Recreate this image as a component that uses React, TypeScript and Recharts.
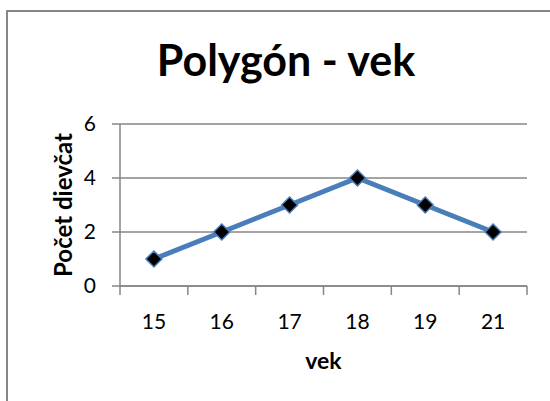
import React from 'react';
import { LineChart, Line, XAxis, YAxis, CartesianGrid } from 'recharts';

const categories = ['15', '16', '17', '18', '19', '21'];
const girls = [1, 2, 3, 4, 3, 2];
const yTicks = [0, 2, 4, 6];

const data = categories.map((vek, i) => ({ vek, pocet: girls[i] }));

const FONT = 'Lato, "Open Sans", sans-serif';
const GRID = '#868686';
const BLUE = '#4A7EBB';

// plocha grafu
const PLOT_LEFT = 120;
const PLOT_RIGHT = 527;
const HALF_BAND = (PLOT_RIGHT - PLOT_LEFT) / categories.length / 2;

// kosoštvorcová značka ako v Exceli
const Diamond = (props: any) => {
  const { cx, cy } = props;
  if (cx == null || cy == null) return null;
  const r = 8;
  return (
    <polygon
      points={`${cx},${cy - r} ${cx + r},${cy} ${cx},${cy + r} ${cx - r},${cy}`}
      fill="#000"
      stroke={BLUE}
      strokeWidth={1.5}
    />
  );
};

// značky osi x sú medzi kategóriami, popis v strede
const XTick = (props: any) => {
  const { x, y, payload, index } = props;
  const last = index === categories.length - 1;
  return (
    <g>
      <line x1={x - HALF_BAND} x2={x - HALF_BAND} y1={y} y2={y + 9} stroke={GRID} strokeWidth={1.5} />
      {last && <line x1={x + HALF_BAND} x2={x + HALF_BAND} y1={y} y2={y + 9} stroke={GRID} strokeWidth={1.5} />}
      <text x={x} y={y + 43} textAnchor="middle" fill="#000" fontSize={21} fontFamily={FONT}>
        {payload.value}
      </text>
    </g>
  );
};

export default function App() {
  return (
    <div style={{ position: 'absolute', left: 0, top: 0, width: 550, height: 401, overflow: 'hidden', background: '#fff' }}>
      <div
        style={{
          position: 'absolute',
          left: 6,
          top: 10,
          width: 600,
          height: 500,
          border: `2px solid ${GRID}`,
        }}
      />
      <div
        style={{
          position: 'absolute',
          left: 0,
          top: 34,
          width: 572,
          textAlign: 'center',
          fontFamily: FONT,
          fontWeight: 700,
          fontSize: 43,
          lineHeight: '52px',
          color: '#000',
        }}
      >
        Polygón - vek
      </div>
      <LineChart
        width={550}
        height={401}
        data={data}
        margin={{ top: 124, right: 550 - PLOT_RIGHT, bottom: 25, left: PLOT_LEFT - 70 }}
        style={{ position: 'absolute', left: 0, top: 0 }}
      >
        <CartesianGrid vertical={false} stroke={GRID} strokeWidth={1.5} />
        <XAxis
          dataKey="vek"
          height={90}
          stroke={GRID}
          strokeWidth={1.5}
          tickLine={false}
          tickSize={0}
          tickMargin={0}
          padding={{ left: HALF_BAND, right: HALF_BAND }}
          tick={<XTick />}
          interval={0}
          label={{
            content: (p: any) => {
              const vb = p.viewBox;
              return (
                <text x={vb.x + vb.width / 2} y={vb.y + 83} textAnchor="middle" fill="#000" fontSize={23} fontWeight={700} fontFamily={FONT}>
                  vek
                </text>
              );
            },
          }}
        />
        <YAxis
          domain={[0, 6]}
          ticks={yTicks}
          width={70}
          stroke={GRID}
          strokeWidth={1.5}
          tickSize={8}
          tickMargin={16}
          tick={{ fill: '#000', fontSize: 21, fontFamily: FONT }}
          label={{
            content: (p: any) => {
              const vb = p.viewBox;
              const cx = 72;
              const cy = vb.y + vb.height / 2;
              return (
                <text
                  x={cx}
                  y={cy}
                  transform={`rotate(-90, ${cx}, ${cy})`}
                  textAnchor="middle"
                  fill="#000"
                  fontSize={24}
                  fontWeight={700}
                  fontFamily={FONT}
                >
                  Počet dievčat
                </text>
              );
            },
          }}
        />
        <Line
          type="linear"
          dataKey="pocet"
          stroke={BLUE}
          strokeWidth={5}
          dot={<Diamond />}
          activeDot={false}
          isAnimationActive={false}
        />
      </LineChart>
    </div>
  );
}
